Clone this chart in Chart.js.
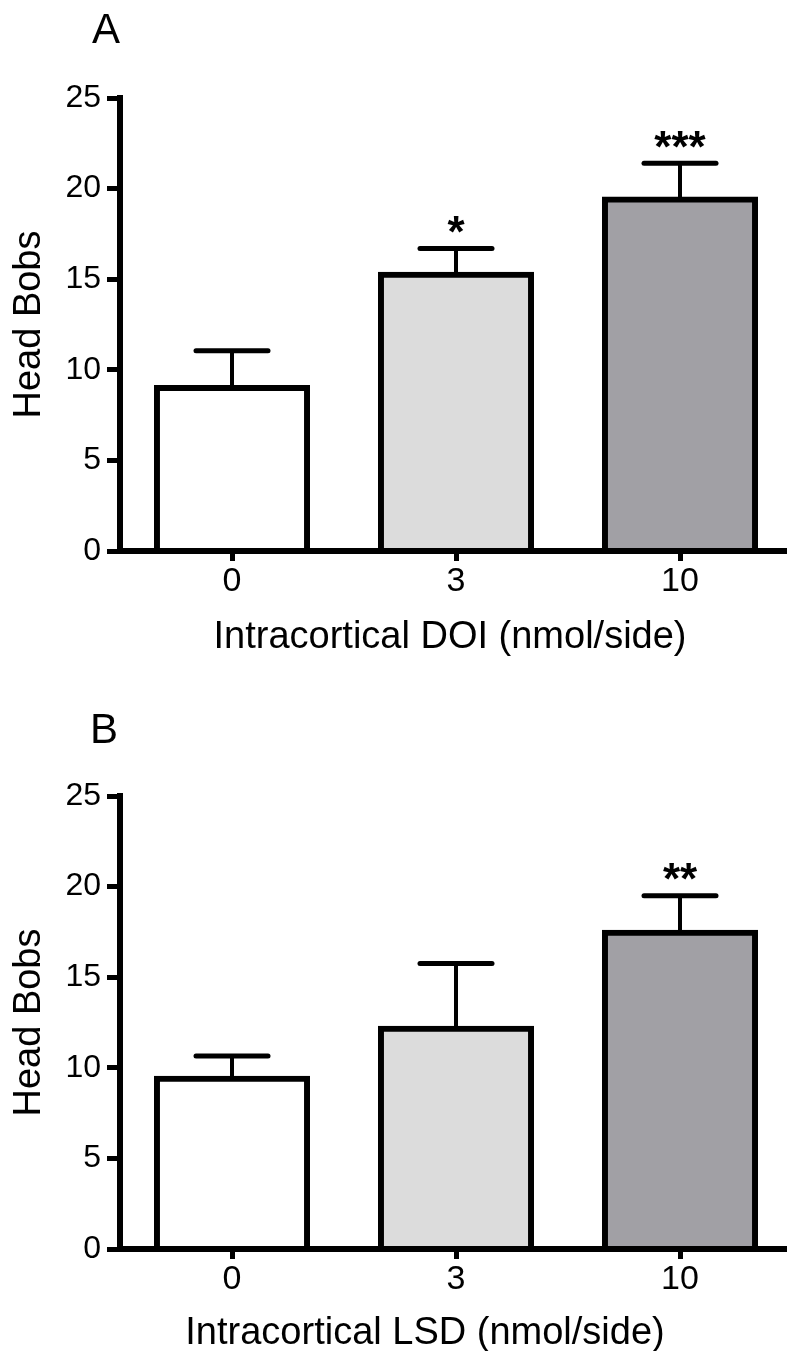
<!DOCTYPE html>
<html><head><meta charset="utf-8">
<script src="https://cdn.jsdelivr.net/npm/chart.js@4"></script>
<style>
html,body{margin:0;padding:0;background:#fff;width:787px;height:1351px;overflow:hidden;}
.panel{position:absolute;left:0;width:787px;overflow:hidden;}
#pa{top:0;height:698px;}
#pb{top:698px;height:653px;}
canvas{display:block;}
</style></head><body>
<div class="panel" id="pa"><canvas id="ca" width="792" height="698"></canvas></div>
<div class="panel" id="pb"><canvas id="cb" width="792" height="698"></canvas></div>
<script>
// ---- data ----
const doses = ['0', '3', '10'];
const doiMeans = [9.0, 15.25, 19.4];
const doiSem = [2.05, 1.45, 2.0];
const doiStars = ['', '*', '***'];
const lsdMeans = [9.4, 12.15, 17.45];
const lsdSem = [1.25, 3.6, 2.05];
const lsdStars = ['', '', '**'];
const yTicks = [0, 5, 10, 15, 20, 25];
const barColors = ['#ffffff', '#dcdcdc', '#a1a0a5'];
const panelLetters = ['A', 'B'];
const xTitles = ['Intracortical DOI (nmol/side)', 'Intracortical LSD (nmol/side)'];
const yTitle = 'Head Bobs';

const FONT = '"Liberation Sans", Arial, Helvetica, sans-serif';

const errPlugin = {
  id: 'errPlugin',
  afterDatasetsDraw(chart, args, opts) {
    const ctx = chart.ctx, ys = chart.scales.y;
    const meta = chart.getDatasetMeta(0);
    ctx.save();
    ctx.strokeStyle = '#000';
    ctx.fillStyle = '#000';
    meta.data.forEach((bar, i) => {
      const m = opts.means[i], e = opts.sem[i];
      const yb = ys.getPixelForValue(m), yt = ys.getPixelForValue(m + e);
      ctx.lineWidth = 4; ctx.lineCap = 'butt';
      ctx.beginPath(); ctx.moveTo(bar.x, yb); ctx.lineTo(bar.x, yt); ctx.stroke();
      ctx.lineWidth = 5; ctx.lineCap = 'round';
      ctx.beginPath(); ctx.moveTo(bar.x - 36, yt); ctx.lineTo(bar.x + 36, yt); ctx.stroke();
      const s = opts.stars[i];
      if (s) {
        ctx.font = 'bold 44px ' + FONT;
        ctx.textAlign = 'center';
        ctx.textBaseline = 'alphabetic';
        const mt = ctx.measureText(s);
        const cy = yt - 24;
        const base = cy + (mt.actualBoundingBoxAscent - mt.actualBoundingBoxDescent) / 2;
        ctx.fillText(s, bar.x, base);
      }
    });
    ctx.restore();
  }
};

const textPlugin = {
  id: 'textPlugin',
  afterDraw(chart, args, opts) {
    const ctx = chart.ctx, ca = chart.chartArea;
    ctx.save();
    ctx.fillStyle = '#000';
    ctx.textBaseline = 'alphabetic';
    ctx.font = '42px ' + FONT;
    ctx.textAlign = 'left';
    ctx.fillText(opts.letter, opts.letterX, opts.letterY);
    ctx.font = '38px ' + FONT;
    ctx.textAlign = 'center';
    ctx.fillText(opts.xTitle, (ca.left + ca.right) / 2 + opts.xShift, ca.bottom + opts.xDrop);
    ctx.restore();
  }
};

function makeChart(id, means, sem, stars, letter, xTitle, letterX, letterY, xShift, xDrop) {
  return new Chart(document.getElementById(id), {
    type: 'bar',
    data: {
      labels: doses,
      datasets: [{
        data: means,
        backgroundColor: barColors,
        borderColor: '#000',
        borderWidth: 6,
        borderSkipped: 'start',
        inflateAmount: 3,
        barPercentage: 0.67,
        categoryPercentage: 1.0
      }]
    },
    options: {
      responsive: false,
      animation: false,
      devicePixelRatio: 1,
      layout: { padding: { top: 98, right: 0, bottom: 0, left: 0 } },
      plugins: {
        legend: { display: false },
        tooltip: { enabled: false },
        errPlugin: { means: means, sem: sem, stars: stars },
        textPlugin: { letter: letter, xTitle: xTitle, letterX: letterX, letterY: letterY, xShift: xShift, xDrop: xDrop }
      },
      scales: {
        x: {
          ticks: { font: { size: 34, family: FONT }, color: '#000', padding: 0 },
          grid: { offset: false, drawOnChartArea: false, drawTicks: true, tickLength: 10, tickWidth: 5, tickColor: '#000' },
          border: { display: true, width: 6, color: '#000', z: 1 },
          afterFit: (s) => { s.height = 147; }
        },
        y: {
          min: 0, max: 25,
          afterBuildTicks: (s) => { s.ticks = yTicks.map(v => ({ value: v })); },
          ticks: { font: { size: 32, family: FONT }, color: '#000', padding: 6 },
          grid: { drawOnChartArea: false, drawTicks: true, tickLength: 13, tickWidth: 5, tickColor: '#000' },
          border: { display: true, width: 6, color: '#000', z: 1 },
          title: { display: true, text: yTitle, font: { size: 38, family: FONT }, color: '#000', padding: { top: 6.5, bottom: 0 } },
          afterFit: (s) => { s.width = 120; }
        }
      }
    },
    plugins: [errPlugin, textPlugin]
  });
}

makeChart('ca', doiMeans, doiSem, doiStars, panelLetters[0], xTitles[0], 92, 43, -6, 97);
makeChart('cb', lsdMeans, lsdSem, lsdStars, panelLetters[1], xTitles[1], 90, 45, -31, 95);
</script>
</body></html>
